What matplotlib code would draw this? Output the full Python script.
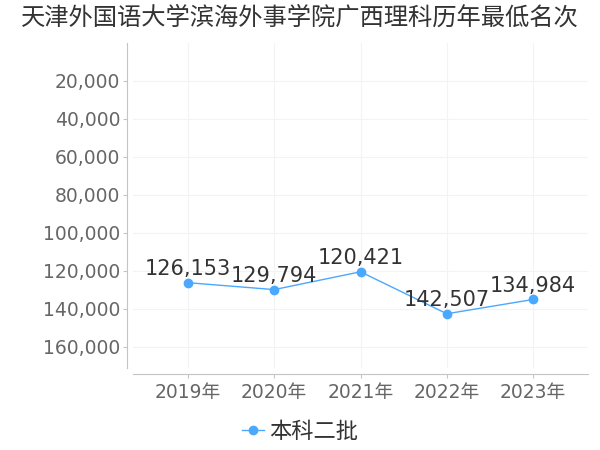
import matplotlib
matplotlib.use("Agg")
import matplotlib.pyplot as plt
from matplotlib.ticker import FuncFormatter

plt.rcParams['font.family'] = ['DejaVu Sans', 'Noto Sans CJK SC']

# data
title = "天津外国语大学滨海外事学院广西理科历年最低名次"
years = ["2019年", "2020年", "2021年", "2022年", "2023年"]
ranks = [126153, 129794, 120421, 142507, 134984]
series_name = "本科二批"
yticks = [20000, 40000, 60000, 80000, 100000, 120000, 140000, 160000]

fig = plt.figure(figsize=(6, 4.5), dpi=100)
W, H = 600, 450
ax = fig.add_axes([133 / W, 1 - 368 / H, (588 - 133) / W, (368 - 43) / H])

x = list(range(len(years)))
line, = ax.plot(x, ranks, color="#4aa8ff", linewidth=1, marker="o",
                markersize=6, label=series_name)

for xi, v in zip(x, ranks):
    ax.annotate(f"{v:,}", (xi, v), xytext=(0, 10), textcoords="offset points",
                ha="center", va="center", fontsize=15, color="#333333")

ax.set_xlim(-0.636, 4.636)
ax.set_ylim(171053, 0)
ax.set_xticks(x)
ax.set_xticklabels(years)
ax.set_yticks(yticks)
ax.yaxis.set_major_formatter(FuncFormatter(lambda v, p: f"{int(v):,}"))

ax.grid(True, color="#f3f3f3", linewidth=0.8)
ax.set_axisbelow(True)

for s in ["top", "right"]:
    ax.spines[s].set_visible(False)
ax.spines["left"].set_position(("outward", 4))
ax.spines["bottom"].set_position(("outward", 4))
ax.spines["left"].set_color("#c4c4c4")
ax.spines["bottom"].set_color("#c4c4c4")

ax.tick_params(axis="both", colors="#c4c4c4", labelcolor="#666666",
               labelsize=13.5, length=3)
ax.tick_params(axis="y", pad=2)
ax.tick_params(axis="x", pad=4)

fig.text(0.5, 1 - 18 / H, title, ha="center", va="center",
         fontsize=17.5, color="#333333")

fig.legend(handles=[line], loc="center", bbox_to_anchor=(0.5, 1 - 432 / H),
           frameon=False, fontsize=16, handlelength=1.0, handletextpad=0.2,
           labelcolor="#333333")

fig.savefig("out.png", dpi=100)
